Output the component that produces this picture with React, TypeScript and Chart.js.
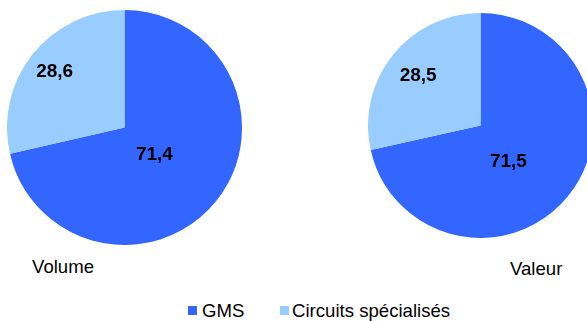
import React, { useEffect, useRef } from "react";
import { Chart, registerables } from "chart.js";

Chart.register(...registerables);

const categories = ["GMS", "Circuits spécialisés"];
const volumeValues = [71.4, 28.6];
const valeurValues = [71.5, 28.5];
const volumeLabels = ["71,4", "28,6"];
const valeurLabels = ["71,5", "28,5"];
const colors = ["#3366FF", "#99CCFF"];

const FONT = "'Liberation Sans', Arial, Helvetica, sans-serif";

const labelPlugin = {
  id: "sliceLabels",
  afterDatasetsDraw(chart: any) {
    const opts = chart.options.plugins.sliceLabels;
    if (!opts) return;
    const ctx = chart.ctx;
    const meta = chart.getDatasetMeta(0);
    ctx.save();
    ctx.font = `bold 19px ${FONT}`;
    ctx.fillStyle = "#000";
    ctx.textAlign = "center";
    ctx.textBaseline = "middle";
    meta.data.forEach((arc: any, i: number) => {
      const p = arc.getProps(["x", "y", "startAngle", "endAngle", "outerRadius"], true);
      const mid = (p.startAngle + p.endAngle) / 2 + (opts.shifts[i] * Math.PI) / 180;
      const d = p.outerRadius * opts.factors[i];
      ctx.fillText(opts.texts[i], p.x + Math.cos(mid) * d, p.y + Math.sin(mid) * d);
    });
    ctx.restore();
  },
};

function Pie({ values, texts, factors, shifts, style }: any) {
  const ref = useRef<HTMLCanvasElement>(null);
  useEffect(() => {
    const chart = new Chart(ref.current!, {
      type: "pie",
      data: {
        labels: categories,
        datasets: [{ data: values, backgroundColor: colors, borderWidth: 0 }],
      },
      options: {
        animation: false,
        responsive: false,
        maintainAspectRatio: false,
        layout: { padding: 0 },
        plugins: {
          legend: { display: false },
          tooltip: { enabled: false },
          sliceLabels: { texts, factors, shifts },
        } as any,
      },
      plugins: [labelPlugin],
    });
    return () => chart.destroy();
  }, []);
  return (
    <canvas
      ref={ref}
      width={style.width}
      height={style.height}
      style={{ position: "absolute", ...style }}
    />
  );
}

export default function App() {
  const textStyle: React.CSSProperties = {
    position: "absolute",
    fontFamily: FONT,
    fontSize: 18.6,
    color: "#000",
    lineHeight: "20px",
    whiteSpace: "nowrap",
  };
  return (
    <div
      style={{
        position: "absolute",
        left: 0,
        top: 0,
        width: 587,
        height: 321,
        overflow: "hidden",
        background: "#fff",
      }}
    >
      <Pie
        values={volumeValues}
        texts={volumeLabels}
        factors={[0.345, 0.76]}
        shifts={[4, 0]}
        style={{ left: 7, top: 10, width: 235, height: 235 }}
      />
      <Pie
        values={valeurValues}
        texts={valeurLabels}
        factors={[0.41, 0.71]}
        shifts={[14, 0]}
        style={{ left: 368, top: 13, width: 225, height: 225 }}
      />
      <div style={{ ...textStyle, left: 32, top: 257 }}>Volume</div>
      <div style={{ ...textStyle, left: 510, top: 259 }}>Valeur</div>
      <div style={{ position: "absolute", left: 188, top: 306, width: 9, height: 9, background: colors[0] }} />
      <div style={{ ...textStyle, left: 202, top: 301 }}>{categories[0]}</div>
      <div style={{ position: "absolute", left: 280, top: 306, width: 9, height: 9, background: colors[1] }} />
      <div style={{ ...textStyle, left: 292, top: 301 }}>{categories[1]}</div>
    </div>
  );
}
